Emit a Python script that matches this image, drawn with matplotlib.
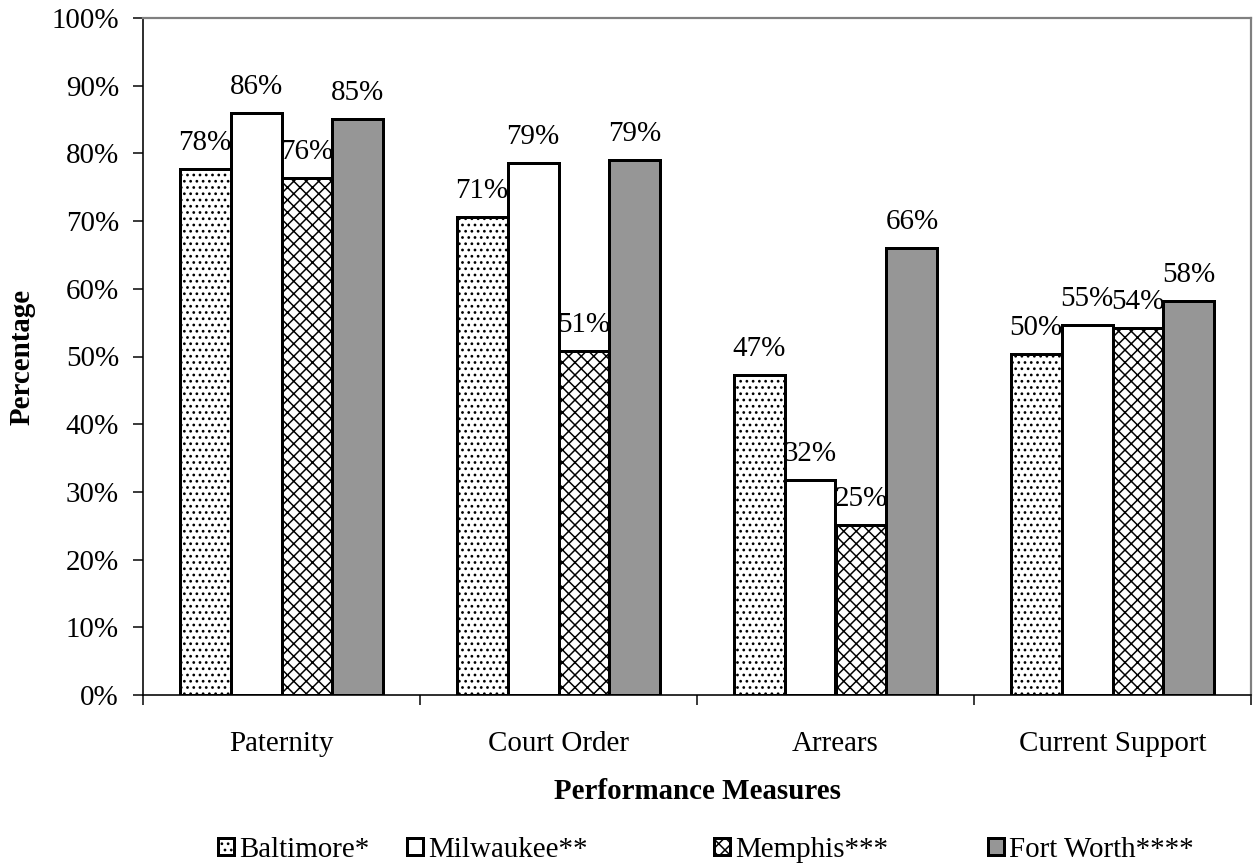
import matplotlib
matplotlib.use("Agg")
import matplotlib.pyplot as plt
import numpy as np

# Performance measures per site (percent)
categories = ["Paternity", "Court Order", "Arrears", "Current Support"]
series_names = ["Baltimore*", "Milwaukee**", "Memphis***", "Fort Worth****"]
baltimore = [77.7, 70.6, 47.3, 50.4]
milwaukee = [85.9, 78.6, 31.7, 54.6]
memphis = [76.4, 50.8, 25.1, 54.2]
fort_worth = [85.1, 79.0, 66.0, 58.2]
y_ticks = [0, 10, 20, 30, 40, 50, 60, 70, 80, 90, 100]

DPI = 75
W, H = 1254, 863
PT = 72.0 / DPI  # points per pixel

plt.rcParams["font.family"] = ["Liberation Serif", "DejaVu Serif"]
plt.rcParams["hatch.linewidth"] = 1.5 * PT
plt.rcParams["text.color"] = "black"

fig = plt.figure(figsize=(W / DPI, H / DPI), dpi=DPI)
ax = fig.add_axes([143 / W, (H - 695) / H, (1251 - 143) / W, (695 - 18) / H])

fs = 29 * PT
bar_w = 0.184
x = np.arange(len(categories))
styles = [
    dict(facecolor="white", hatch=".."),
    dict(facecolor="white", hatch=""),
    dict(facecolor="white", hatch="xx"),
    dict(facecolor="#969696", hatch=""),
]
all_series = [baltimore, milwaukee, memphis, fort_worth]

bars = []
for i, (vals, st, name) in enumerate(zip(all_series, styles, series_names)):
    offs = (i - 1.5) * bar_w
    b = ax.bar(x + offs, vals, width=bar_w, edgecolor="black",
               linewidth=3 * PT, label=name, zorder=3, **st)
    bars.append(b)
    for xi, v in zip(x + offs, vals):
        ax.annotate(f"{v:.0f}%", (xi, v), xytext=(0, 13 * PT),
                    textcoords="offset points", ha="center", va="bottom",
                    fontsize=fs)

ax.set_xlim(-0.5, len(categories) - 0.5)
ax.set_ylim(0, 100)
ax.set_yticks(y_ticks)
ax.set_yticklabels([f"{t}%" for t in y_ticks], fontsize=fs)
ax.tick_params(axis="y", direction="out", length=10 * PT, width=1.5 * PT,
               pad=14 * PT)

ax.set_xticks(x)
ax.set_xticklabels(categories, fontsize=fs)
ax.set_xticks(np.arange(-0.5, len(categories)), minor=True)
ax.tick_params(axis="x", which="major", length=0, pad=36 * PT)
ax.tick_params(axis="x", which="minor", direction="out", length=10 * PT,
               width=1.5 * PT)

for side in ("left", "bottom"):
    ax.spines[side].set_color("black")
    ax.spines[side].set_linewidth(1.6 * PT)
for side in ("top", "right"):
    ax.spines[side].set_color("#808080")
    ax.spines[side].set_linewidth(2.2 * PT)

ax.set_xlabel("Performance Measures", fontsize=fs, fontweight="bold")
ax.xaxis.set_label_coords(0.5, (695 - 778) / 677)
ax.set_ylabel("Percentage", fontsize=fs, fontweight="bold")
ax.yaxis.set_label_coords((36 - 143) / 1108, 0.5)

# Legend entries laid out along the bottom edge
legend_x = [218, 407, 714, 988]
for b, name, lx in zip(bars, series_names, legend_x):
    fig.legend(handles=[b], labels=[name], loc="center left",
               bbox_to_anchor=(lx / W, (H - 850) / H), frameon=False,
               fontsize=fs, handlelength=0.55, handleheight=0.55,
               handletextpad=0.18, borderpad=0, borderaxespad=0)

fig.savefig("out.png", dpi=DPI)
